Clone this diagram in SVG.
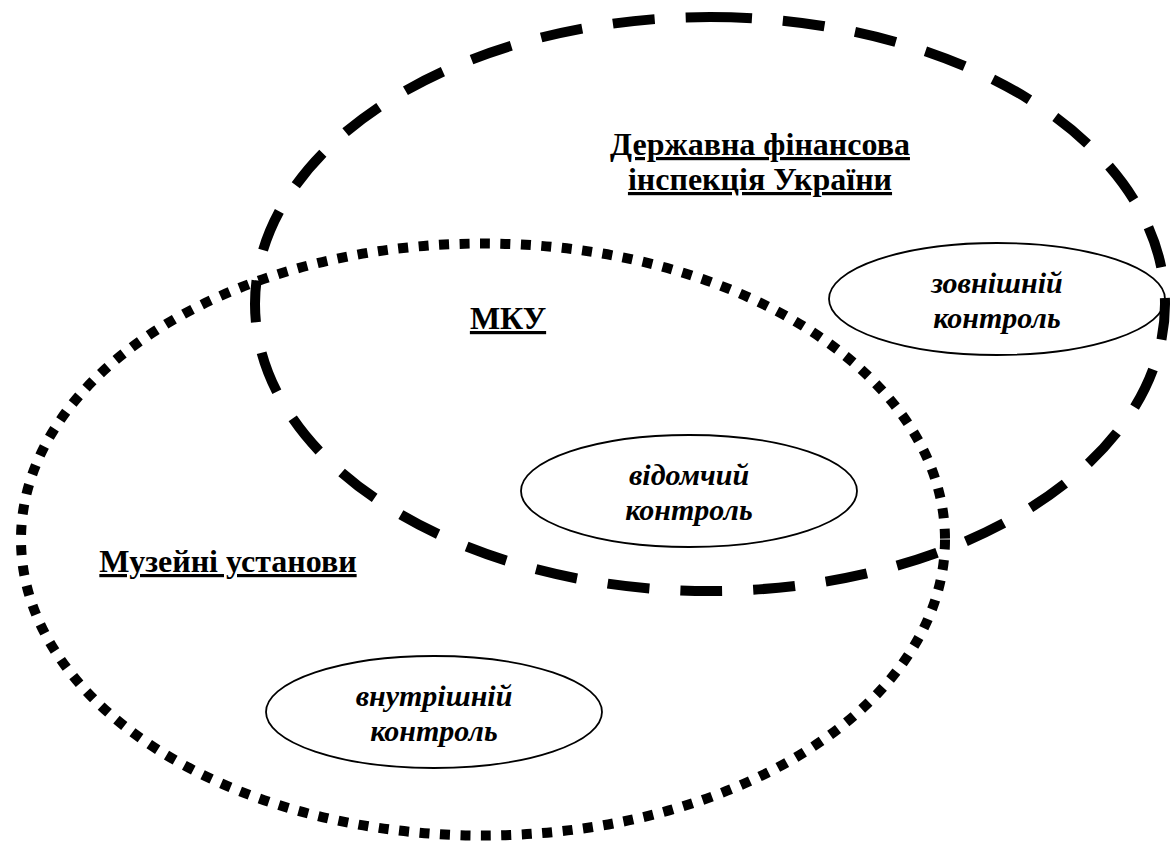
<svg xmlns="http://www.w3.org/2000/svg" width="1173" height="844" viewBox="0 0 1173 844">
<style>
.big{fill:none;stroke:#000;stroke-width:10;stroke-linecap:butt}
.dash{stroke-dasharray:42 31}
.dot{stroke-dasharray:10 10.5}
.small{fill:none;stroke:#000;stroke-width:1.8}
.h{font-family:"Liberation Serif","Times New Roman",serif;font-weight:bold;font-size:32px;text-anchor:middle;text-decoration:underline;text-decoration-thickness:3px;text-underline-offset:4px}
.l{font-family:"Liberation Serif","Times New Roman",serif;font-weight:bold;font-style:italic;font-size:30px;text-anchor:middle}
</style>
<rect width="1173" height="844" fill="#fff"/>
<g id="connectors">
<path id="dfi-boundary" class="big dash" d="M710,17 A455,287 0 1,1 710,591 A455,287 0 1,1 710,17 Z"/>
<ellipse id="museum-boundary" class="big dot" cx="483" cy="539.5" rx="462" ry="296"/>
</g>
<g id="dfi">
<text class="h" x="760" y="155">Державна фінансова</text>
<text class="h" x="760" y="190">інспекція України</text>
</g>
<g id="mku">
<text class="h" x="508" y="329">МКУ</text>
</g>
<g id="museums">
<text class="h" x="228" y="572">Музейні установи</text>
</g>
<g id="external">
<ellipse class="small" cx="997" cy="299" rx="168" ry="56"/>
<text class="l" x="997" y="293">зовнішній</text>
<text class="l" x="997" y="328">контроль</text>
</g>
<g id="departmental">
<ellipse class="small" cx="689" cy="491" rx="168" ry="56"/>
<text class="l" x="689" y="485">відомчий</text>
<text class="l" x="689" y="520">контроль</text>
</g>
<g id="internal">
<ellipse class="small" cx="434" cy="712" rx="168" ry="56"/>
<text class="l" x="434" y="706">внутрішній</text>
<text class="l" x="434" y="741">контроль</text>
</g>
</svg>
